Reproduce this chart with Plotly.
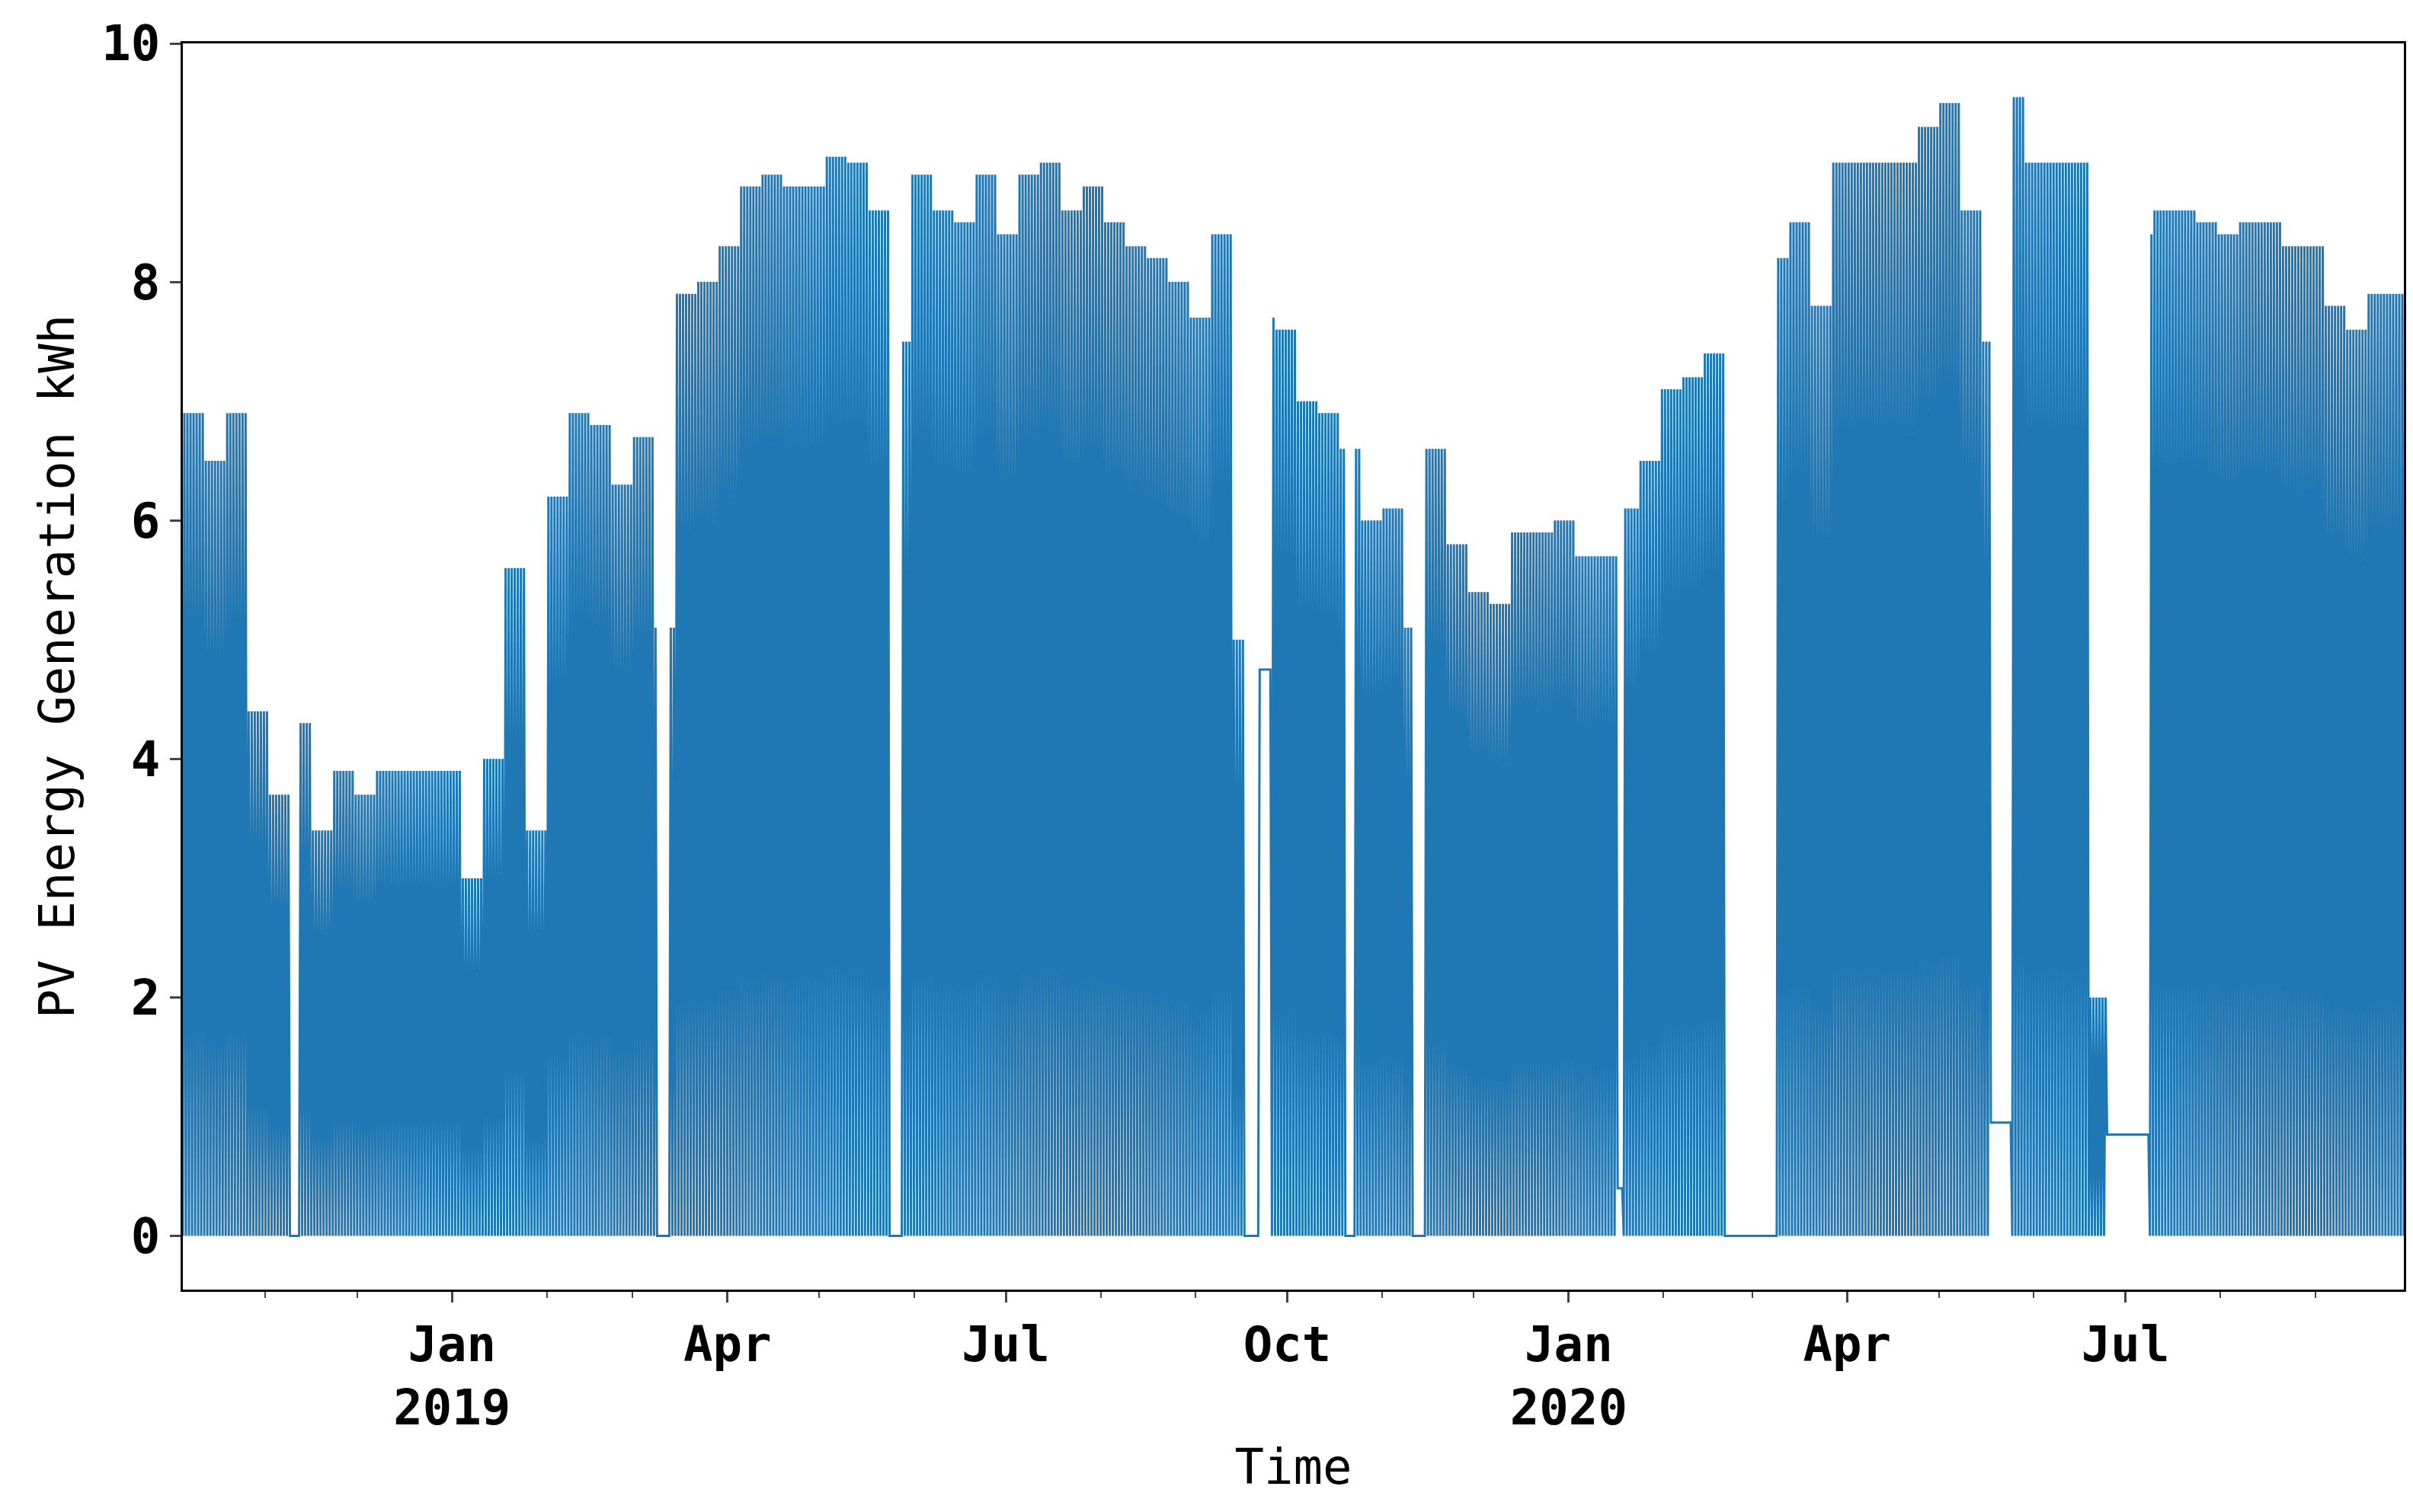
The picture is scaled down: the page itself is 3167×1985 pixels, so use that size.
# -*- coding: utf-8 -*-
import pandas as pd
import plotly.graph_objects as go

# Weekly peak of daily PV generation (kWh), weeks from 2018-10-05
start = "2018-10-05"
weekly_peak = [
    6.9, 6.5, 6.9, 4.4, 3.7, 4.3, 3.4, 3.9, 3.7, 3.9, 3.9, 3.9, 3.9, 3.0, 4.0, 5.6,
    3.4, 6.2, 6.9, 6.8, 6.3, 6.7, 5.1, 7.9, 8.0, 8.3, 8.8, 8.9, 8.8, 8.8, 9.05, 9.0,
    8.6, 7.5, 8.9, 8.6, 8.5, 8.9, 8.4, 8.9, 9.0, 8.6, 8.8, 8.5, 8.3, 8.2, 8.0, 7.7,
    8.4, 5.0, 7.7, 7.6, 7.0, 6.9, 6.6, 6.0, 6.1, 5.1, 6.6, 5.8, 5.4, 5.3, 5.9, 5.9,
    6.0, 5.7, 5.7, 6.1, 6.5, 7.1, 7.2, 7.4, 0.0, 0.0, 8.2, 8.5, 7.8, 9.0, 9.0, 9.0,
    9.0, 9.3, 9.5, 8.6, 7.5, 9.55, 9.0, 9.0, 9.0, 2.0, 0.85, 8.4, 8.6, 8.6, 8.5, 8.4,
    8.5, 8.5, 8.3, 8.3, 7.8, 7.6, 7.9, 7.9,
]

# Periods with no daily cycle (start, end, held value)
outage_start = ["2018-11-09", "2019-03-09", "2019-05-24", "2019-09-17", "2019-09-22",
                "2019-10-20", "2019-11-11", "2020-01-17", "2020-02-24", "2020-05-18",
                "2020-06-25"]
outage_end = ["2018-11-12", "2019-03-13", "2019-05-28", "2019-09-22", "2019-09-26",
              "2019-10-23", "2019-11-15", "2020-01-19", "2020-03-09", "2020-05-25",
              "2020-07-09"]
outage_level = [0, 0, 0, 0, 4.75, 0, 0, 0.4, 0, 0.95, 0.85]

days = pd.date_range(start, "2020-09-30", freq="D")
xs, ys = [], []
for d in days:
    week = min((d - pd.Timestamp(start)).days // 7, len(weekly_peak) - 1)
    held = None
    for s, e, lv in zip(outage_start, outage_end, outage_level):
        if pd.Timestamp(s) <= d < pd.Timestamp(e):
            held = lv
    xs += [d, d + pd.Timedelta(hours=12)]
    if held is not None:
        ys += [held, held]
    else:
        ys += [0, weekly_peak[week]]

fig = go.Figure(go.Scatter(x=xs, y=ys, mode="lines",
                           line=dict(color="#1f77b4", width=3)))

tick_dates = ["2019-01-01", "2019-04-01", "2019-07-01", "2019-10-01",
              "2020-01-01", "2020-04-01", "2020-07-01"]
tick_text = ["Jan<br>2019", "Apr", "Jul", "Oct", "Jan<br>2020", "Apr", "Jul"]

mono = "DejaVu Sans Mono"
fig.update_layout(
    width=3167, height=1985,
    paper_bgcolor="white", plot_bgcolor="white",
    margin=dict(l=232, r=20, t=44, b=300),
    showlegend=False,
    font=dict(family=mono, color="black"),
)
fig.update_xaxes(
    range=["2018-10-05", "2020-09-30"],
    tickvals=tick_dates, ticktext=tick_text,
    tickfont=dict(size=64, family=mono, weight="bold"),
    ticks="outside", ticklen=14, tickwidth=3,
    minor=dict(dtick="M1", ticks="outside", ticklen=8, tickwidth=2,
               tick0="2018-10-01"),
    showgrid=False, showline=True, linecolor="black", linewidth=3, mirror=True,
    title=dict(text="Time", font=dict(size=64, family=mono), standoff=20),
)
fig.update_yaxes(
    range=[-0.45, 10.0], tickvals=[0, 2, 4, 6, 8, 10],
    tickfont=dict(size=64, family=mono, weight="bold"),
    ticks="outside", ticklen=14, tickwidth=3,
    showgrid=False, zeroline=False, showline=True, linecolor="black",
    linewidth=3, mirror=True,
    title=dict(text="PV Energy Generation kWh", font=dict(size=64, family=mono)),
)

fig.write_html("out.html")
